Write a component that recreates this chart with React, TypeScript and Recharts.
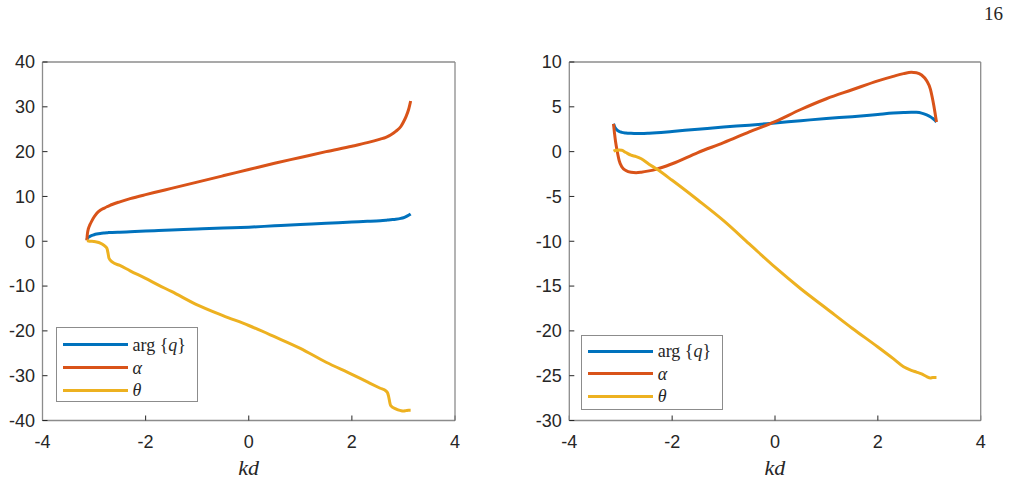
import React from 'react';
import { Label, Legend, Line, LineChart, XAxis, YAxis } from 'recharts';

// left panel
const leftKd = [
  -3.14, -3.13, -3.11, -3.08, -3.04, -3.0, -2.95, -2.88, -2.8, -2.75, -2.73, -2.71, -2.65, -2.5, -2.3, -2.0, -1.75,
  -1.5, -1.0, -0.5, 0, 0.5, 1.0, 1.5, 2.0, 2.3, 2.55, 2.66, 2.69, 2.71, 2.75, 2.85, 2.95, 3.0, 3.05, 3.1, 3.14,
];
const leftArg = [
  0.3, 0.6, 0.9, 1.1, 1.3, 1.45, 1.6, 1.75, 1.85, 1.9, 1.92, 1.94, 1.97, 2.03, 2.12, 2.27, 2.38, 2.49, 2.72, 2.93,
  3.14, 3.45, 3.75, 4.0, 4.3, 4.45, 4.6, 4.7, 4.72, 4.75, 4.8, 4.9, 5.1, 5.25, 5.5, 5.8, 6.1,
];
const leftAlpha = [
  0.2, 1.6, 2.8, 3.7, 4.6, 5.4, 6.2, 6.9, 7.4, 7.7, 7.8, 7.9, 8.2, 8.8, 9.5, 10.4, 11.1, 11.8, 13.2, 14.6, 16.0,
  17.4, 18.7, 20.0, 21.2, 22.0, 22.8, 23.2, 23.35, 23.45, 23.7, 24.5, 25.6, 26.6, 27.8, 29.4, 31.3,
];
const leftTheta = [
  0.1, 0.1, 0.05, 0, 0, -0.05, -0.15, -0.4, -1.0, -1.6, -2.6, -3.8, -4.6, -5.4, -6.6, -8.3, -9.8, -11.2, -14.2,
  -16.6, -18.8, -21.3, -23.9, -27.0, -29.7, -31.4, -32.8, -33.4, -33.8, -34.5, -36.6, -37.4, -37.8, -37.9, -37.8,
  -37.7, -37.7,
];

// right panel
const rightKd = [
  -3.14, -3.12, -3.1, -3.07, -3.03, -2.98, -2.9, -2.8, -2.7, -2.6, -2.45, -2.3, -2.0, -1.5, -1.0, -0.5, 0, 0.5, 1.0,
  1.5, 2.0, 2.3, 2.5, 2.65, 2.75, 2.85, 2.95, 3.02, 3.07, 3.11, 3.14,
];
const rightArg = [
  3.1, 2.8, 2.6, 2.4, 2.25, 2.15, 2.08, 2.04, 2.02, 2.02, 2.05, 2.1, 2.25, 2.5, 2.75, 2.95, 3.2, 3.45, 3.7, 3.9,
  4.15, 4.3, 4.37, 4.4, 4.38, 4.3, 4.1, 3.9, 3.7, 3.5, 3.3,
];
const rightAlpha = [
  3.1, 2.0, 1.1, 0.1, -1.0, -1.7, -2.1, -2.3, -2.35, -2.3, -2.15, -1.95, -1.35, -0.1, 1.0, 2.2, 3.35, 4.7, 5.9, 6.9,
  7.9, 8.4, 8.7, 8.85, 8.8, 8.55, 7.9, 7.0, 5.7, 4.4, 3.3,
];
const rightTheta = [
  0.05, 0.1, 0.12, 0.15, 0.18, 0.15, -0.1, -0.4, -0.55, -0.8, -1.4, -1.95, -3.2, -5.4, -7.7, -10.3, -12.9, -15.3,
  -17.5, -19.7, -21.8, -23.1, -24.0, -24.4, -24.6, -24.8, -25.1, -25.25, -25.2, -25.2, -25.2,
];

const xTicks = [-4, -2, 0, 2, 4];
const leftYTicks = [-40, -30, -20, -10, 0, 10, 20, 30, 40];
const rightYTicks = [-30, -25, -20, -15, -10, -5, 0, 5, 10];

const BLUE = '#0072BD';
const ORANGE = '#D95319';
const YELLOW = '#EDB120';
const FRAME = '#8c8c8c';
const INK = '#262626';
const SERIF = "'Liberation Serif', 'Times New Roman', serif";

const toRows = (kd: number[], arg: number[], alpha: number[], theta: number[]) =>
  kd.map((k, i) => ({ kd: k, arg: arg[i], alpha: alpha[i], theta: theta[i] }));

const tickFont = { fontFamily: "'Liberation Sans', Arial, sans-serif", fontSize: 18, fill: INK };

// x label drawn under the axis, centred on it
function KdLabel(props: any) {
  const vb = props.viewBox || {};
  return (
    <text
      x={vb.x + vb.width / 2}
      y={475}
      textAnchor="middle"
      fontFamily={SERIF}
      fontStyle="italic"
      fontSize={22}
      fill={INK}
    >
      kd
    </text>
  );
}

function legendLabel(key: string) {
  if (key === 'arg')
    return (
      <span>
        arg&nbsp;{'{'}
        <i>q</i>
        {'}'}
      </span>
    );
  if (key === 'alpha') return <i>α</i>;
  return <i>θ</i>;
}

function LegendBox({ payload, rows }: { payload?: any[]; rows: number[] }) {
  return (
    <div
      style={{
        position: 'relative',
        width: 142,
        height: 75,
        boxSizing: 'border-box',
        border: `1.3px solid ${FRAME}`,
        background: '#fff',
        fontFamily: SERIF,
        fontSize: 18,
        color: INK,
      }}
    >
      {(payload || []).map((p, i) => (
        <div key={p.dataKey} style={{ position: 'absolute', left: 0, top: rows[i] - 11, height: 22, width: 140 }}>
          <div style={{ position: 'absolute', left: 6, top: 9.5, width: 65, height: 3, background: p.color }} />
          <div style={{ position: 'absolute', left: 76, top: 0, lineHeight: '22px', whiteSpace: 'nowrap' }}>
            {legendLabel(p.dataKey)}
          </div>
        </div>
      ))}
    </div>
  );
}

function Panel({
  rows,
  yDomain,
  yTicks,
  margin,
  legendPos,
  legendRows,
}: {
  rows: any[];
  yDomain: [number, number];
  yTicks: number[];
  margin: { top: number; right: number; bottom: number; left: number };
  legendPos: { left: number; top: number };
  legendRows: number[];
}) {
  const axisLine = { stroke: FRAME, strokeWidth: 1.3 };
  const tickLine = { stroke: INK, strokeWidth: 1 };
  return (
    <LineChart width={505} height={484} data={rows} margin={margin}>
      <XAxis
        dataKey="kd"
        type="number"
        domain={[-4, 4]}
        ticks={xTicks}
        interval={0}
        height={1}
        tickSize={-5}
        tickMargin={19.5}
        axisLine={axisLine}
        tickLine={tickLine}
        tick={tickFont}
      >
        <Label content={KdLabel} />
      </XAxis>
      <XAxis
        xAxisId="top"
        orientation="top"
        dataKey="kd"
        type="number"
        domain={[-4, 4]}
        ticks={xTicks}
        interval={0}
        height={1}
        tickSize={-5}
        axisLine={axisLine}
        tickLine={tickLine}
        tick={false}
      />
      <YAxis
        type="number"
        domain={yDomain}
        ticks={yTicks}
        interval={0}
        width={1}
        tickSize={-5}
        tickMargin={12.5}
        axisLine={axisLine}
        tickLine={tickLine}
        tick={tickFont}
      />
      <YAxis
        yAxisId="right"
        orientation="right"
        type="number"
        domain={yDomain}
        ticks={yTicks}
        interval={0}
        width={1}
        tickSize={-5}
        axisLine={axisLine}
        tickLine={tickLine}
        tick={false}
      />
      <Line dataKey="arg" name="arg {q}" stroke={BLUE} strokeWidth={3} dot={false} type="monotone" isAnimationActive={false} />
      <Line dataKey="alpha" name="α" stroke={ORANGE} strokeWidth={3} dot={false} type="monotone" isAnimationActive={false} />
      <Line dataKey="theta" name="θ" stroke={YELLOW} strokeWidth={3} dot={false} type="monotone" isAnimationActive={false} />
      <Legend
        layout="horizontal"
        verticalAlign="middle"
        align="center"
        wrapperStyle={{ left: legendPos.left, top: legendPos.top, width: 142, height: 75 }}
        content={(props: any) => <LegendBox payload={props.payload} rows={legendRows} />}
      />
    </LineChart>
  );
}

export default function App() {
  return (
    <div style={{ position: 'absolute', left: 0, top: 0, width: 1010, height: 484, background: '#fff' }}>
      <svg width={1010} height={30} style={{ position: 'absolute', left: 0, top: 0 }}>
        <text x={1003} y={19.5} textAnchor="end" fontFamily={SERIF} fontSize={19} fill={INK}>
          16
        </text>
      </svg>
      <div style={{ position: 'absolute', left: 0, top: 0 }}>
        <Panel
          rows={toRows(leftKd, leftArg, leftAlpha, leftTheta)}
          yDomain={[-40, 40]}
          yTicks={leftYTicks}
          margin={{ top: 61, right: 49, bottom: 62.5, left: 41.5 }}
          legendPos={{ left: 55.5, top: 327 }}
          legendRows={[16.5, 39.5, 62]}
        />
      </div>
      <div style={{ position: 'absolute', left: 505, top: 0 }}>
        <Panel
          rows={toRows(rightKd, rightArg, rightAlpha, rightTheta)}
          yDomain={[-30, 10]}
          yTicks={rightYTicks}
          margin={{ top: 61, right: 28.3, bottom: 62.5, left: 63.3 }}
          legendPos={{ left: 75.7, top: 335 }}
          legendRows={[15, 37.5, 60]}
        />
      </div>
    </div>
  );
}
